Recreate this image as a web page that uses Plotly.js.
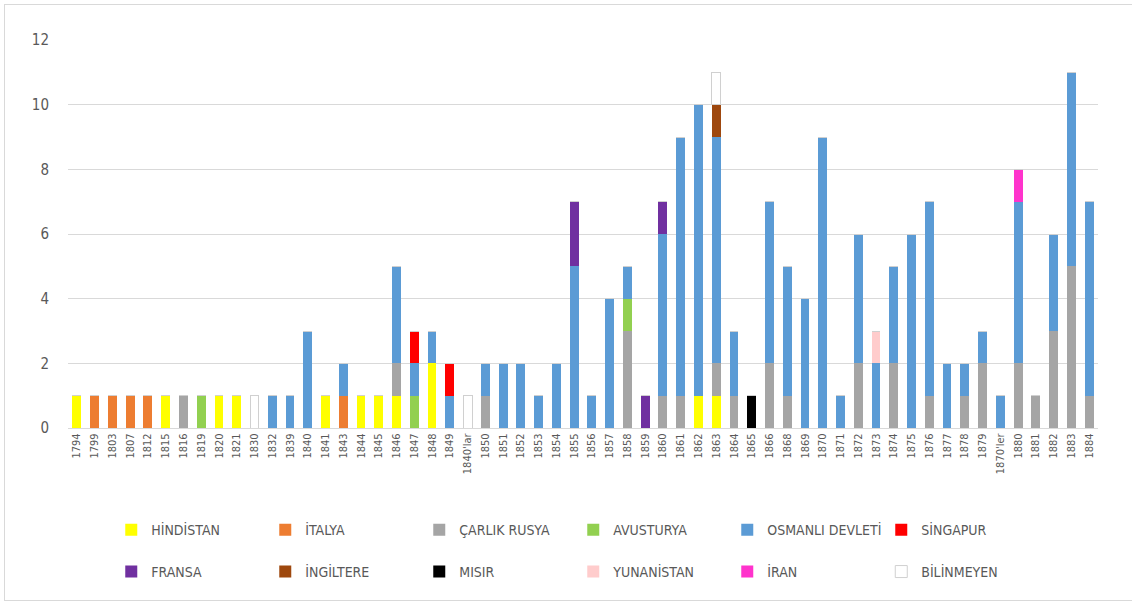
<!DOCTYPE html>
<html>
<head>
<meta charset="utf-8">
<script src="https://cdn.plot.ly/plotly-3.0.1.min.js"></script>
<style>
  html, body { margin: 0; padding: 0; background: #ffffff; }
  #frame { position: absolute; left: 4px; top: 4px; width: 1140px; height: 597px; border: 1px solid #d9d9d9; box-sizing: border-box; }
  #chart { position: absolute; left: 0; top: 0; width: 1132px; height: 604px; }
</style>
</head>
<body>
<div id="frame"></div>
<div id="chart"></div>
<script>
const categories = ["1794","1799","1803","1807","1812","1815","1816","1819","1820","1821",
  "1830","1832","1839","1840","1841","1843","1844","1845","1846","1847",
  "1848","1849","1840'lar","1850","1851","1852","1853","1854","1855","1856",
  "1857","1858","1859","1860","1861","1862","1863","1864","1865","1866",
  "1868","1869","1870","1871","1872","1873","1874","1875","1876","1877",
  "1878","1879","1870'ler","1880","1881","1882","1883","1884"];

const hindistan = [1,0,0,0,0,1,0,0,1,1, 0,0,0,0,1,0,1,1,1,0, 2,0,0,0,0,0,0,0,0,0, 0,0,0,0,0,1,1,0,0,0, 0,0,0,0,0,0,0,0,0,0, 0,0,0,0,0,0,0,0];
const italya    = [0,1,1,1,1,0,0,0,0,0, 0,0,0,0,0,1,0,0,0,0, 0,0,0,0,0,0,0,0,0,0, 0,0,0,0,0,0,0,0,0,0, 0,0,0,0,0,0,0,0,0,0, 0,0,0,0,0,0,0,0];
const carlikRusya = [0,0,0,0,0,0,1,0,0,0, 0,0,0,0,0,0,0,0,1,0, 0,0,0,1,0,0,0,0,0,0, 0,3,0,1,1,0,1,1,0,2, 1,0,0,0,2,0,2,0,1,0, 1,2,0,2,1,3,5,1];
const avusturya = [0,0,0,0,0,0,0,1,0,0, 0,0,0,0,0,0,0,0,0,1, 0,0,0,0,0,0,0,0,0,0, 0,1,0,0,0,0,0,0,0,0, 0,0,0,0,0,0,0,0,0,0, 0,0,0,0,0,0,0,0];
const osmanli   = [0,0,0,0,0,0,0,0,0,0, 0,1,1,3,0,1,0,0,3,1, 1,1,0,1,2,2,1,2,5,1, 4,1,0,5,8,9,7,2,0,5, 4,4,9,1,4,2,3,6,6,2, 1,1,1,5,0,3,6,6];
const singapur  = [0,0,0,0,0,0,0,0,0,0, 0,0,0,0,0,0,0,0,0,1, 0,1,0,0,0,0,0,0,0,0, 0,0,0,0,0,0,0,0,0,0, 0,0,0,0,0,0,0,0,0,0, 0,0,0,0,0,0,0,0];
const fransa    = [0,0,0,0,0,0,0,0,0,0, 0,0,0,0,0,0,0,0,0,0, 0,0,0,0,0,0,0,0,2,0, 0,0,1,1,0,0,0,0,0,0, 0,0,0,0,0,0,0,0,0,0, 0,0,0,0,0,0,0,0];
const ingiltere = [0,0,0,0,0,0,0,0,0,0, 0,0,0,0,0,0,0,0,0,0, 0,0,0,0,0,0,0,0,0,0, 0,0,0,0,0,0,1,0,0,0, 0,0,0,0,0,0,0,0,0,0, 0,0,0,0,0,0,0,0];
const misir     = [0,0,0,0,0,0,0,0,0,0, 0,0,0,0,0,0,0,0,0,0, 0,0,0,0,0,0,0,0,0,0, 0,0,0,0,0,0,0,0,1,0, 0,0,0,0,0,0,0,0,0,0, 0,0,0,0,0,0,0,0];
const yunanistan = [0,0,0,0,0,0,0,0,0,0, 0,0,0,0,0,0,0,0,0,0, 0,0,0,0,0,0,0,0,0,0, 0,0,0,0,0,0,0,0,0,0, 0,0,0,0,0,1,0,0,0,0, 0,0,0,0,0,0,0,0];
const iran      = [0,0,0,0,0,0,0,0,0,0, 0,0,0,0,0,0,0,0,0,0, 0,0,0,0,0,0,0,0,0,0, 0,0,0,0,0,0,0,0,0,0, 0,0,0,0,0,0,0,0,0,0, 0,0,0,1,0,0,0,0];
const bilinmeyen = [0,0,0,0,0,0,0,0,0,0, 1,0,0,0,0,0,0,0,0,0, 0,0,1,0,0,0,0,0,0,0, 0,0,0,0,0,0,1,0,0,0, 0,0,0,0,0,0,0,0,0,0, 0,0,0,0,0,0,0,0];

const seriesNames = ["HİNDİSTAN","İTALYA","ÇARLIK RUSYA","AVUSTURYA","OSMANLI DEVLETİ","SİNGAPUR",
  "FRANSA","İNGİLTERE","MISIR","YUNANİSTAN","İRAN","BİLİNMEYEN"];
const seriesValues = [hindistan, italya, carlikRusya, avusturya, osmanli, singapur,
  fransa, ingiltere, misir, yunanistan, iran, bilinmeyen];
const seriesColors = ["#ffff00","#ed7d31","#a5a5a5","#92d050","#5b9bd5","#ff0000",
  "#7030a0","#9e480e","#000000","#ffcccc","#ff33cc","#ffffff"];

const traces = seriesNames.map((name, i) => ({
  type: 'bar',
  name: name,
  x: categories,
  y: seriesValues[i],
  legend: i < 6 ? 'legend' : 'legend2',
  marker: {
    color: seriesColors[i],
    line: i === 11 ? {color: '#d0d0d0', width: 1} : {width: 0}
  },
  hoverinfo: 'x+y+name'
}));

const fam = '"Liberation Sans Narrow", "DejaVu Sans Condensed", "Roboto Condensed", "Liberation Sans", sans-serif';
const legendFont = {family: fam, size: 14, color: '#595959'};

const layout = {
  width: 1132,
  height: 604,
  barmode: 'stack',
  bargap: 0.5,
  paper_bgcolor: 'rgba(0,0,0,0)',
  plot_bgcolor: 'rgba(0,0,0,0)',
  margin: {l: 68, r: 34, t: 40, b: 176},
  font: {family: fam, color: '#595959'},
  xaxis: {
    type: 'category',
    tickangle: -90,
    tickfont: {size: 11, color: '#595959'},
    showgrid: false,
    showline: true,
    linecolor: '#d9d9d9',
    linewidth: 1,
    ticks: '',
    fixedrange: true
  },
  yaxis: {
    range: [0, 12],
    dtick: 2,
    showgrid: true,
    gridcolor: '#d9d9d9',
    gridwidth: 1,
    zeroline: false,
    showline: false,
    ticks: 'outside',
    ticklen: 15,
    tickcolor: 'rgba(0,0,0,0)',
    tickfont: {size: 15, color: '#595959'},
    fixedrange: true
  },
  legend: {
    orientation: 'h',
    x: 0.042, xanchor: 'left',
    y: -0.263, yanchor: 'middle',
    entrywidth: 109, entrywidthmode: 'pixels',
    font: legendFont,
    itemwidth: 30,
    traceorder: 'normal',
    bgcolor: 'rgba(0,0,0,0)'
  },
  legend2: {
    orientation: 'h',
    x: 0.042, xanchor: 'left',
    y: -0.371, yanchor: 'middle',
    entrywidth: 109, entrywidthmode: 'pixels',
    font: legendFont,
    itemwidth: 30,
    traceorder: 'normal',
    bgcolor: 'rgba(0,0,0,0)'
  },
  showlegend: true
};

Plotly.newPlot('chart', traces, layout, {displayModeBar: false, staticPlot: true});
</script>
</body>
</html>
